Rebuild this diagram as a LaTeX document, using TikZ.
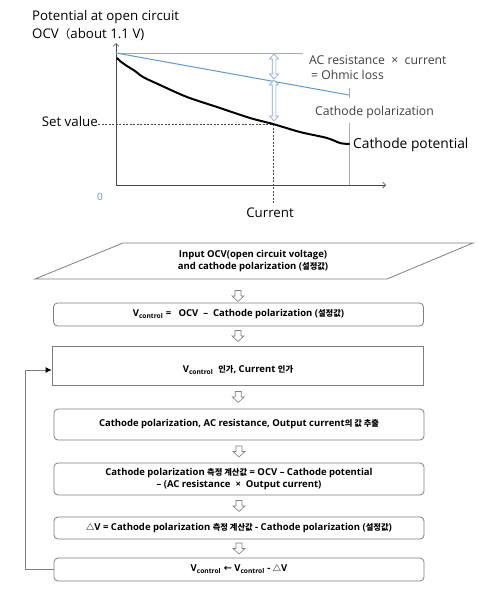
\documentclass[tikz,border=0pt]{standalone}
\usepackage{fontspec}
\setmainfont{Open Sans}
\newfontfamily\kr[Scale=0.87]{Noto Sans CJK KR}
\usetikzlibrary{arrows.meta,calc}
\definecolor{bluel}{RGB}{91,155,213}
\definecolor{axisc}{RGB}{70,70,70}
\definecolor{topgray}{RGB}{170,170,170}
\definecolor{boxgray}{RGB}{127,127,127}
\definecolor{lblc}{RGB}{64,64,64}
\begin{document}
\begin{tikzpicture}[x=1pt,y=-1pt,
  chartlbl/.style={font=\fontsize{12.2}{14}\selectfont, text=lblc, inner sep=0pt},
  mainlbl/.style={font=\fontsize{13.3}{15}\selectfont, text=black, inner sep=0pt},
  axisline/.style={draw=axisc, line width=0.7pt},
  guide/.style={draw=topgray, line width=0.6pt},
  dashguide/.style={draw=axisc, line width=0.6pt, dash pattern=on 2pt off 1.5pt},
  flowfont/.style={font=\bfseries\fontsize{9.5}{11.5}\selectfont},
  fbox/.style={draw=boxgray, rounded corners=4pt, line width=0.8pt, minimum width=370pt,
     flowfont, align=center, inner sep=0pt},
  sqbox/.style={fbox, rounded corners=0pt},
  openarr/.style={draw=boxgray, fill=white, line width=0.6pt, line join=miter},
  dblline/.style={draw=bluel!85!white, fill=white, line width=0.6pt, line join=miter},
  fback/.style={draw=boxgray, line width=0.8pt},
  downarrow/.pic={\path[openarr] (-3,-5.5) -- (3,-5.5) -- (3,0) -- (6,0) -- (0,5.5) -- (-6,0) -- (-3,0) -- cycle;},
  pics/dblarrow/.style={code={\path[dblline] (0,0) -- (4.5,5) -- (1.8,5) -- (1.8,#1-5) -- (4.5,#1-5) -- (0,#1)
       -- (-4.5,#1-5) -- (-1.8,#1-5) -- (-1.8,5) -- (-4.5,5) -- cycle;}}
]
\useasboundingbox (0,0) rectangle (479,592);
\fill[white] (0,0) rectangle (479,592);

% ---------- chart ----------
\coordinate (O) at (116,185);
\coordinate (Ytop) at (116,43);
\coordinate (Xend) at (386,185);
\coordinate (ocv) at (116,53);
\coordinate (topend) at (303,53);
\coordinate (blueend) at (349,95);
\coordinate (tickA) at (349,88);
\coordinate (tickB) at (349,98);
\coordinate (rightA) at (349,123);
\coordinate (rightB) at (349,185);
\coordinate (setL) at (98,124);
\coordinate (setP) at (273,124);
\coordinate (curB) at (273,203);

\draw[axisline, -{Straight Barb[length=3pt,width=6pt]}] (O) -- (Ytop);
\draw[axisline, -{Straight Barb[length=3pt,width=6pt]}] (O) -- (Xend);
\draw[guide] (ocv) -- (topend);
\draw[bluel, line width=1pt] (ocv) -- (blueend);
\draw[guide] (tickA) -- (tickB);
\draw[guide] (rightA) -- (rightB);
\draw[dashguide] (setL) -- (setP);
\draw[dashguide] (setP) -- (curB);
\draw[black, line width=2pt, line cap=round] plot[smooth, tension=0.5] coordinates
  {(117,58) (120,61) (127,66) (135,71) (143,77) (160,85) (187,97) (217,107)
   (250,118) (273,124) (300,132) (327,138) (340,143) (349,144)};

\pic (dA) at (274,54) {dblarrow=25};
\pic (dB) at (274,80) {dblarrow=41};

\node[mainlbl, anchor=west] (potlbl) at (32,17) {Potential at open circuit};
\node[mainlbl, anchor=west] (ocvlbl) at (32,34) {OCV{\kr （}about 1.1 V)};
\node[mainlbl, anchor=east] (setlbl) at (98,122) {Set value};
\node[font=\fontsize{10}{12}\selectfont, text=bluel, inner sep=0pt] (zero) at (100,197) {0};
\node[mainlbl] (curlbl) at (270,213) {Current};
\node[chartlbl, anchor=west] (aclbl) at (309,60) {AC resistance ~×~ current};
\node[chartlbl, anchor=west] (ohmlbl) at (311,75) {=~Ohmic loss};
\node[chartlbl, anchor=west] (cplbl) at (315,112) {Cathode polarization};
\node[mainlbl, font=\fontsize{13.8}{16}\selectfont, anchor=west] (cpotlbl) at (353,145) {Cathode potential};

% ---------- flowchart ----------
\coordinate (pTL) at (123,243);
\coordinate (pTR) at (473,243);
\coordinate (pBR) at (387,279);
\coordinate (pBL) at (35,279);
\draw[boxgray, line width=0.8pt] (pTL) -- (pTR) -- (pBR) -- (pBL) -- cycle;
\node[flowfont, align=center, inner sep=0pt] (inp) at (253,261)
  {Input OCV(open circuit voltage)\\and cathode polarization ({\kr 설정값})};

\node[fbox, minimum height=23pt] (b1) at (238.5,314.5)
  {V\textsubscript{control} =~~~OCV~~–~~Cathode polarization ({\kr 설정값})};
\node[sqbox, minimum height=39pt, minimum width=371pt] (b2) at (237.5,365.5) {};
\node[flowfont, inner sep=0pt] (b2t) at (238,370) {V\textsubscript{control}~~{\kr 인가}, Current {\kr 인가}};
\node[fbox, minimum height=31pt] (b3) at (239,424.5)
  {Cathode polarization, AC resistance, Output current{\kr 의 값 추출}};
\node[fbox, minimum height=32pt] (b4) at (239,479)
  {Cathode polarization {\kr 측정 계산값} = OCV – Cathode potential\\– (AC resistance ~×~ Output current)};
\node[fbox, minimum height=22pt] (b5) at (239,528)
  {{\kr △}V = Cathode polarization {\kr 측정 계산값} - Cathode polarization ({\kr 설정값})};
\node[fbox, minimum height=23pt] (b6) at (239,569.5)
  {V\textsubscript{control} {\kr ←} V\textsubscript{control} - {\kr △}V};

\pic (a0) at (238,296) {downarrow};
\pic (a1) at ($(b1.south)!0.5!(b2.north)$) {downarrow};
\pic (a2) at ($(b2.south)!0.5!(b3.north)$) {downarrow};
\pic (a3) at ($(b3.south)!0.5!(b4.north)$) {downarrow};
\pic (a4) at ($(b4.south)!0.5!(b5.north)$) {downarrow};
\pic (a5) at ($(b5.south)!0.5!(b6.north)$) {downarrow};

\coordinate (fbB) at (25,569.5);
\coordinate (fbT) at (25,370);
\draw[fback, -{Latex[length=6pt,width=6pt,black]}] (b6.west) -- (fbB) -- (fbT) -- (b2.west |- fbT);
\end{tikzpicture}
\end{document}
